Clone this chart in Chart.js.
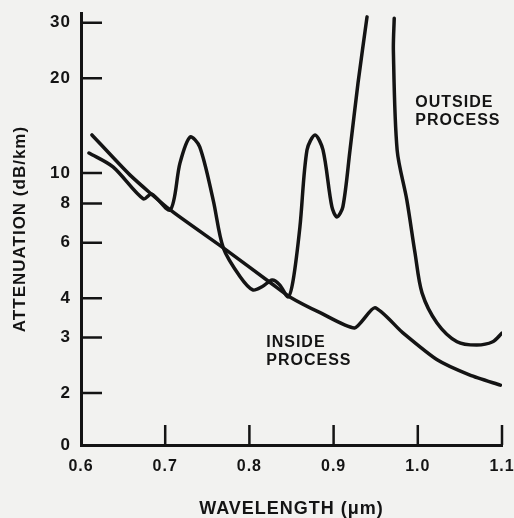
<!DOCTYPE html>
<html lang="en">
<head>
<meta charset="UTF-8">
<title>Attenuation vs wavelength</title>
<script src="https://cdn.jsdelivr.net/npm/chart.js"></script>
<style>
  html, body { margin: 0; padding: 0; background: #f2f2f0; }
</style>
</head>
<body>
<canvas id="attChart" width="514" height="518"></canvas>

<script>
  // broken log axis: the bottom value is labelled "0"
  const yZero = 1.368;
  const yTop = 32.2;
  const yTicks = [2, 3, 4, 6, 8, 10, 20, 30];
  const xTicks = [0.6, 0.7, 0.8, 0.9, 1.0, 1.1];

  // inside process (wavelength in um, dB/km)
  const insideX = [0.613, 0.658, 0.706, 0.769, 0.827, 0.848, 0.884, 0.925, 0.949, 0.982, 1.023, 1.062, 1.098];
  const insideY = [13.2, 9.86, 7.63, 5.78, 4.44, 4.04, 3.6, 3.22, 3.73, 3.11, 2.55, 2.28, 2.12];

  // outside process, the big water peak runs off the top (null = gap)
  const outsideX = [0.6095, 0.638, 0.674, 0.684, 0.706, 0.7176, 0.7295, 0.741, 0.757, 0.769, 0.789, 0.804, 0.815,
    0.827, 0.836, 0.846, 0.852, 0.860, 0.8684, 0.878, 0.8874, 0.898, 0.904, 0.911, 0.9195, 0.929, 0.9397,
    0.955, 0.972, 0.971, 0.9755, 0.987, 0.9967, 1.005, 1.0228, 1.0466, 1.070, 1.089, 1.1];
  const outsideY = [11.57, 10.45, 8.27, 8.57, 7.63, 10.76, 13.0, 12.1, 8.2, 5.78, 4.68, 4.25, 4.35,
    4.57, 4.41, 4.04, 4.57, 6.74, 11.83, 13.2, 11.83, 7.8, 7.25, 7.8, 11.83, 19.3, 31.3,
    null, 31.0, 24.5, 11.8, 8.2, 5.57, 4.16, 3.34, 2.91, 2.84, 2.91, 3.1];

  const notes = [
    { x: 0.997, y: 16.7, lines: ["OUTSIDE", "PROCESS"] },
    { x: 0.82, y: 2.89, lines: ["INSIDE", "PROCESS"] }
  ];

  const ink = "#141414";
  const face = '"Liberation Sans", Arial, sans-serif';

  const toPoints = (xs, ys) => xs.map((x, i) => ({ x, y: ys[i] }));

  const inkPlugin = {
    id: "ink",
    beforeLayout(chart) { chart.ctx.letterSpacing = "1px"; },
    beforeDraw(chart) {
      const ctx = chart.ctx;
      ctx.letterSpacing = "1px";
      ctx.save();
      ctx.fillStyle = "#f2f2f0";
      ctx.fillRect(0, 0, chart.width, chart.height);
      ctx.restore();
    },
    afterDraw(chart) {
      const { ctx, chartArea: a, scales: { x, y } } = chart;
      ctx.save();
      ctx.strokeStyle = ink;
      ctx.lineWidth = 2.5;
      ctx.beginPath();
      yTicks.forEach(v => {
        const py = y.getPixelForValue(v);
        ctx.moveTo(a.left, py);
        ctx.lineTo(a.left + 21, py);
      });
      xTicks.slice(1).forEach(v => {
        const px = x.getPixelForValue(v);
        ctx.moveTo(px, a.bottom);
        ctx.lineTo(px, a.bottom - 20);
      });
      ctx.stroke();

      ctx.font = "bold 16px " + face;
      ctx.fillStyle = ink;
      ctx.textAlign = "left";
      ctx.textBaseline = "middle";
      notes.forEach(n => {
        const px = x.getPixelForValue(n.x);
        const py = y.getPixelForValue(n.y);
        n.lines.forEach((t, i) => ctx.fillText(t, px, py + i * 18));
      });
      ctx.restore();
    }
  };

  const lineStyle = {
    borderColor: ink,
    borderWidth: 3.5,
    pointRadius: 0,
    tension: 0.3,
    borderCapStyle: "round",
    borderJoinStyle: "round",
    fill: false
  };

  new Chart(document.getElementById("attChart"), {
    type: "line",
    data: {
      datasets: [
        { label: "Inside process", data: toPoints(insideX, insideY), ...lineStyle, tension: 0.2 },
        { label: "Outside process", data: toPoints(outsideX, outsideY), ...lineStyle }
      ]
    },
    options: {
      responsive: false,
      animation: false,
      layout: { padding: { left: 0, right: 12, top: 13, bottom: 0 } },
      plugins: { legend: { display: false }, tooltip: { enabled: false } },
      scales: {
        x: {
          type: "linear",
          min: 0.6,
          max: 1.1,
          afterBuildTicks: s => { s.ticks = xTicks.map(v => ({ value: v })); },
          afterFit: s => { s.height = 73; s.paddingLeft = 0; s.paddingRight = 0; },
          grid: { display: false, drawTicks: false },
          border: { color: ink, width: 3 },
          ticks: {
            color: ink,
            padding: 12,
            maxRotation: 0,
            font: { family: face, size: 16, weight: "bold" },
            callback: v => Number(v).toFixed(1)
          },
          title: {
            display: true,
            text: "WAVELENGTH (\u03bcm)",
            color: ink,
            font: { family: face, size: 18, weight: "bold", lineHeight: 1 },
            padding: { top: 0, bottom: 0 }
          }
        },
        y: {
          type: "logarithmic",
          min: yZero,
          max: yTop,
          afterBuildTicks: s => { s.ticks = [yZero, ...yTicks].map(v => ({ value: v })); },
          afterFit: s => { s.width = 81; s.paddingTop = 0; s.paddingBottom = 0; },
          grid: { display: false, drawTicks: false },
          border: { color: ink, width: 3 },
          ticks: {
            color: ink,
            padding: 10,
            font: { family: face, size: 17, weight: "bold" },
            callback: v => (v === yZero ? "0" : String(v))
          },
          title: {
            display: true,
            text: "ATTENUATION (dB/km)",
            color: ink,
            font: { family: face, size: 17, weight: "bold", lineHeight: 1 },
            padding: { top: 12, bottom: 0 }
          }
        }
      }
    },
    plugins: [inkPlugin]
  });
</script>
</body>
</html>
